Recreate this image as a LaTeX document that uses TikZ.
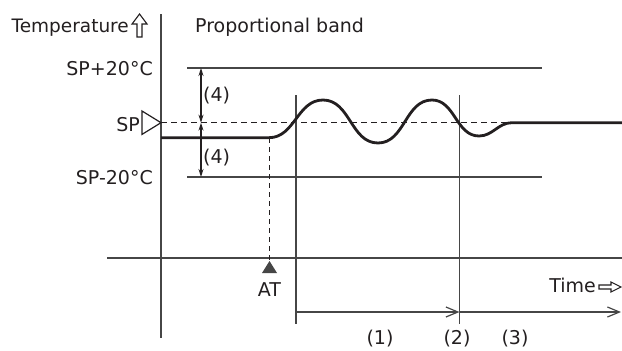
\documentclass[tikz,border=0pt]{standalone}
\usepackage{fontspec}
\setmainfont{DejaVu Sans}
\usepackage{xcolor}
\usetikzlibrary{arrows.meta,positioning,calc}
\definecolor{ink}{RGB}{35,31,32}
\definecolor{rulegray}{RGB}{70,70,70}
\tikzset{
  axisline/.style={line width=1.3pt,rulegray},
  setline/.style={line width=1.2pt,ink,dash pattern=on 6pt off 4pt},
  atline/.style={line width=1.2pt,ink,dash pattern=on 5pt off 4pt},
  tempcurve/.style={line width=2.8pt,ink,line join=round},
  dimarrow/.style={line width=1.1pt,ink,{Stealth[length=8pt,width=5pt]}-{Stealth[length=8pt,width=5pt]}},
  spanarrow/.style={line width=1.2pt,rulegray,-{Straight Barb[length=12pt,width=10pt]}},
  hollowarrow/.style={line width=1.1pt,ink,line join=miter,fill=white},
  lbl/.style={font=\fontsize{19}{22}\selectfont,text=ink,inner sep=0pt}
}
\begin{document}
\begin{tikzpicture}[x=1pt,y=-1pt]
  \useasboundingbox (0,0) rectangle (622,351);
  % axes
  \coordinate (vtop) at (161,14);
  \coordinate (vbot) at (161,338);
  \coordinate (hleft) at (107,258);
  \coordinate (hright) at (622,258);
  \draw[axisline] (vtop) -- (vbot);
  \draw[axisline] (hleft) -- (hright);
  % proportional band and set point
  \coordinate (hiL) at (187,68);  \coordinate (hiR) at (542,68);
  \coordinate (loL) at (187,177); \coordinate (loR) at (542,177);
  \coordinate (spL) at (161,122.7); \coordinate (spR) at (512,122.7);
  \draw[axisline] (hiL) -- (hiR);
  \draw[axisline] (loL) -- (loR);
  \draw[setline] (spL) -- (spR);
  \draw[line width=1.2pt,ink,line join=miter,fill=white]
    (142,111) -- (spL) -- (142,134.4) -- cycle;
  % band widths (4)
  \coordinate (hiA) at (201,68);
  \coordinate (spA) at (201,122.7);
  \coordinate (loA) at (201,177);
  \draw[dimarrow] (hiA) -- (spA);
  \draw[dimarrow] (spA) -- (loA);
  % phase markers
  \coordinate (p1top) at (296,95);    \coordinate (p1bot) at (296,324);
  \coordinate (p2top) at (459.5,95);  \coordinate (p2bot) at (459.5,324);
  \draw[axisline] (p1top) -- (p1bot);
  \draw[axisline] (p2top) -- (p2bot);
  % AT start
  \coordinate (atTop) at (269.5,138);
  \coordinate (atTip) at (269.5,261);
  \draw[atline] (atTop) -- (atTip);
  \fill[rulegray] (262,273) -- (atTip) -- (277,273) -- cycle;
  % temperature curve
  \draw[tempcurve] (161,137.7) -- (269,137.7)
    to[out=0,in=180] (323,100)
    to[out=0,in=180] (378,143)
    to[out=0,in=180] (432,100)
    to[out=0,in=180] (479,136)
    to[out=0,in=180] (512,122.7) -- (622,122.7);
  % time spans
  \coordinate (s1) at (296,312);
  \coordinate (s2) at (459.5,312);
  \coordinate (s3) at (621,312);
  \draw[spanarrow] (s1) -- (s2);
  \draw[spanarrow] (s2) -- (s3);
  % labels
  \node[lbl,font=\fontsize{18.5}{22}\selectfont,anchor=base east] (templbl) at (129,32) {Temperature};
  \node[lbl,anchor=base west] (bandlbl) at (195,32) {Proportional band};
  \node[lbl,anchor=base east] (hilbl) at (153,75) {SP+20°C};
  \node[lbl,anchor=base east] (splbl) at (140,131) {SP};
  \node[lbl,anchor=base east] (lolbl) at (153,184) {SP-20°C};
  \node[lbl,anchor=west] (dimhi) at (203,96) {(4)};
  \node[lbl,anchor=west] (dimlo) at (203,158) {(4)};
  \node[lbl,anchor=base] (atlbl) at (269.5,296) {AT};
  \node[lbl,anchor=base east] (timelbl) at (596,292) {Time};
  \node[lbl] (ph1) at (380,339) {(1)};
  \node[lbl] (ph2) at (457,339) {(2)};
  \node[lbl] (ph3) at (515,339) {(3)};
  % hollow axis arrows
  \coordinate (ua) at (139.5,37);
  \draw[hollowarrow] (ua) ++(-2.5,0) -- ++(0,-13) -- ++(-5,0) -- ++(7.5,-10)
    -- ++(7.5,10) -- ++(-5,0) -- ++(0,13) -- cycle;
  \coordinate (ra) at (599,287);
  \draw[hollowarrow] (ra) ++(0,-2) -- ++(12,0) -- ++(0,-3) -- ++(10,5)
    -- ++(-10,5) -- ++(0,-3) -- ++(-12,0) -- cycle;
\end{tikzpicture}
\end{document}
